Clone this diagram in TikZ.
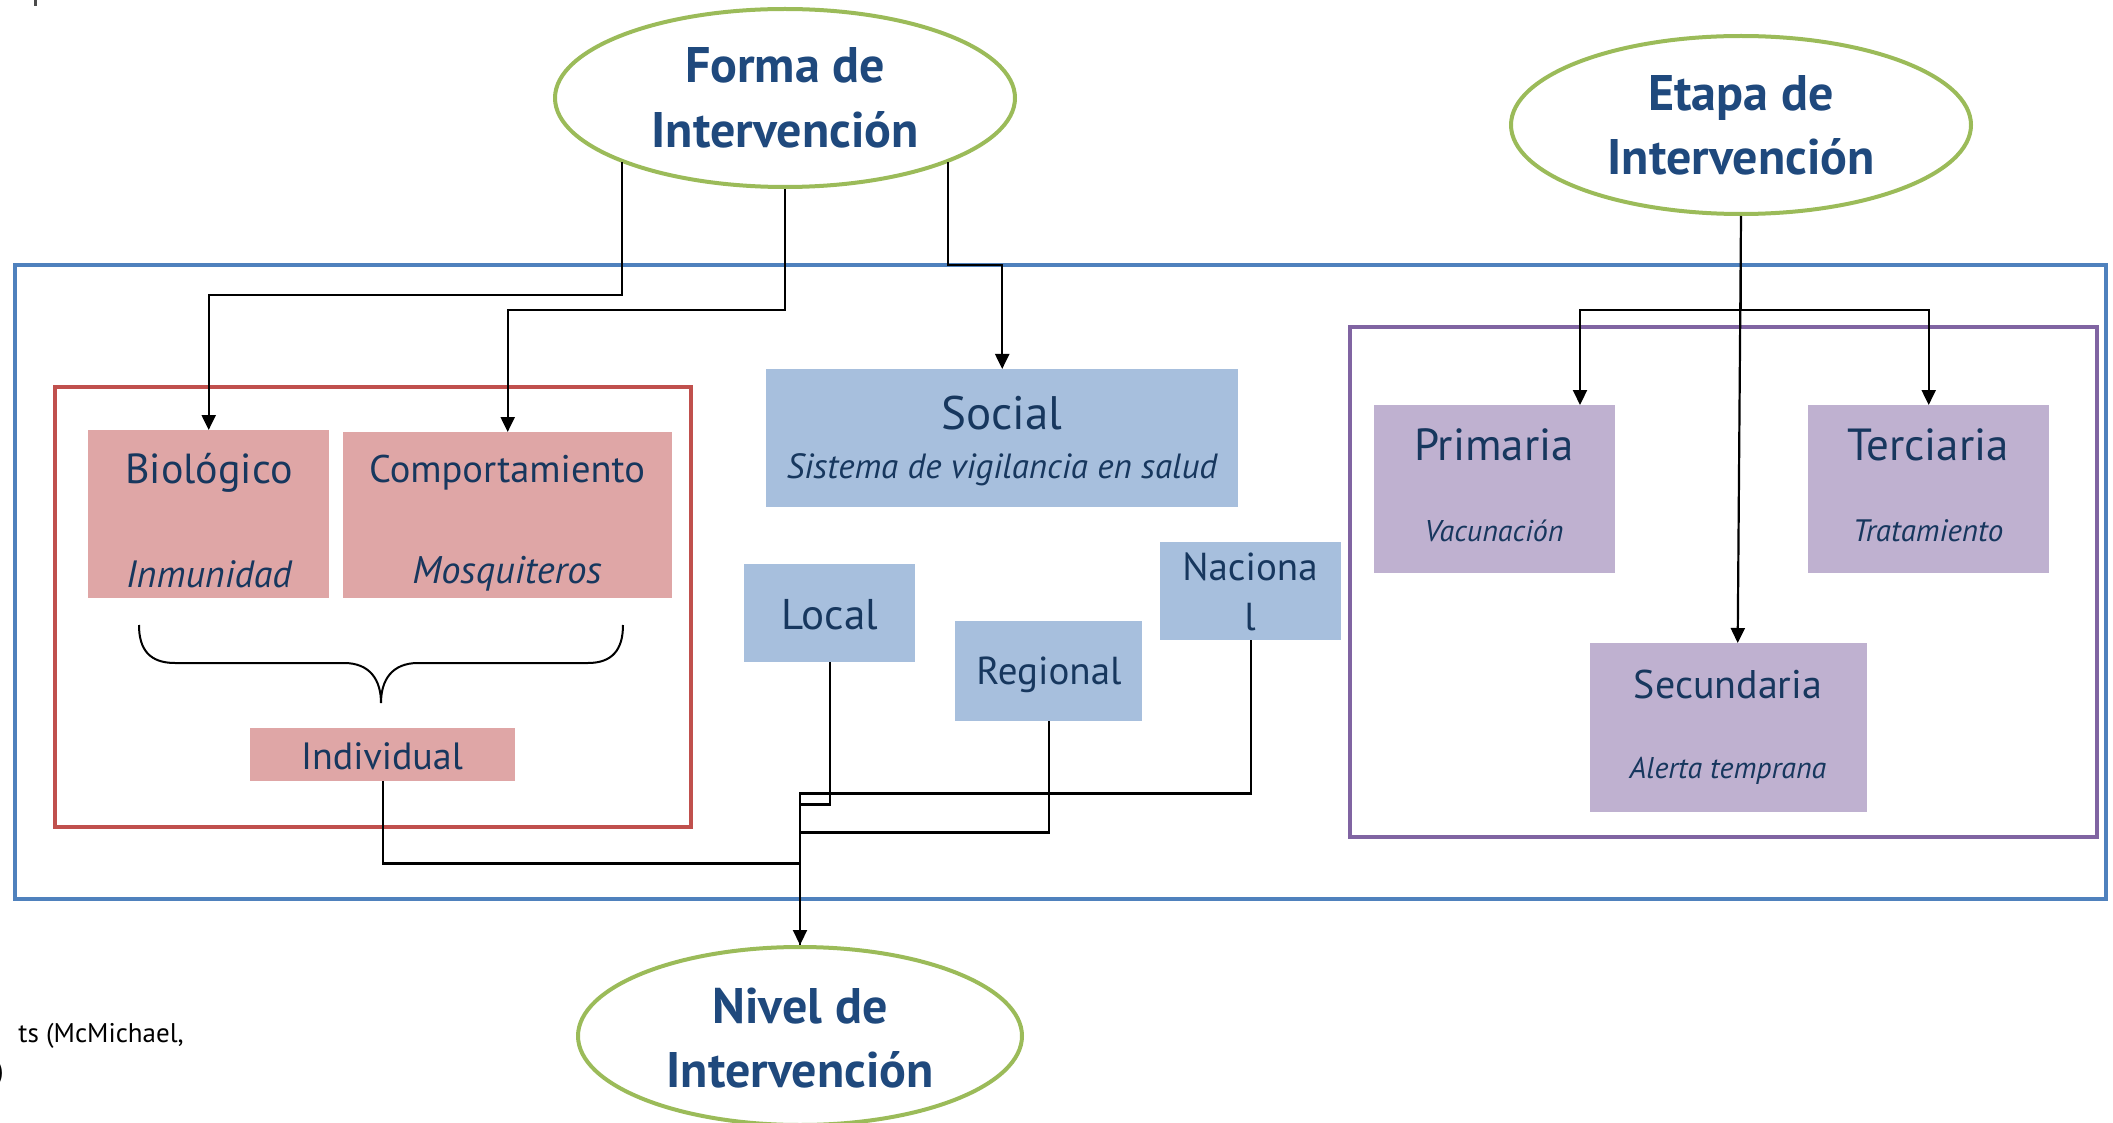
\documentclass[tikz,border=0pt]{standalone}
\usepackage{fontspec}
\setmainfont{PT Sans}
\usetikzlibrary{shapes.geometric,arrows.meta,calc}
\definecolor{bluebox}{RGB}{167,191,221}
\definecolor{redbox}{RGB}{223,166,166}
\definecolor{purbox}{RGB}{191,177,208}
\definecolor{redline}{RGB}{192,80,77}
\definecolor{purline}{RGB}{128,100,162}
\definecolor{blueline}{RGB}{79,129,189}
\definecolor{greenline}{RGB}{155,187,89}
\definecolor{navy}{RGB}{31,73,125}
\definecolor{boxtext}{RGB}{23,55,94}
\begin{document}
\begin{tikzpicture}[x=1pt,y=-1pt,
  ell/.style={ellipse,draw=greenline,line width=4pt,fill=white,inner sep=0pt},
  box/.style={inner sep=0pt,anchor=north west},
  lbl/.style={anchor=base,text=boxtext,inner sep=0pt},
  etext/.style={anchor=base,text=navy,font=\bfseries\fontsize{50}{54}\selectfont,inner sep=0pt},
  conn/.style={line width=2.2pt,black},
  arr/.style={conn,-{Triangle[length=15pt,width=14pt]}}
]
\useasboundingbox (0,0) rectangle (2113,1123);

% group frames
\draw[blueline,line width=4.5pt] (15,265) rectangle (2106,899);
\draw[redline,line width=4pt] (55,387) rectangle (691,827);
\draw[purline,line width=4pt] (1350,327) rectangle (2097,837);

% boxes
\node[box,fill=redbox,minimum width=241pt,minimum height=168pt] (bio) at (88,430) {};
\node[box,fill=redbox,minimum width=329pt,minimum height=166pt] (comp) at (343,432) {};
\node[box,fill=redbox,minimum width=265pt,minimum height=53pt] (ind) at (250,728) {};
\node[box,fill=bluebox,minimum width=472pt,minimum height=138pt] (soc) at (766,369) {};
\node[box,fill=bluebox,minimum width=171pt,minimum height=98pt] (local) at (744,564) {};
\node[box,fill=bluebox,minimum width=187pt,minimum height=100pt] (reg) at (955,621) {};
\node[box,fill=bluebox,minimum width=181pt,minimum height=98pt] (nac) at (1160,542) {};
\node[box,fill=purbox,minimum width=241pt,minimum height=168pt] (prim) at (1374,405) {};
\node[box,fill=purbox,minimum width=241pt,minimum height=168pt] (ter) at (1808,405) {};
\node[box,fill=purbox,minimum width=277pt,minimum height=169pt] (sec) at (1590,643) {};

% ellipses
\node[ell,minimum width=460pt,minimum height=178pt] (forma) at (785,98) {};
\node[ell,minimum width=460pt,minimum height=178pt] (etapa) at (1741,125) {};
\node[ell,minimum width=444pt,minimum height=178pt] (nivel) at (800,1036) {};

% ellipse texts
\node[etext] (formaA) at (785,83) {Forma de};
\node[etext] (formaB) at (785,148) {Intervención};
\node[etext] (etapaA) at (1741,111) {Etapa de};
\node[etext] (etapaB) at (1741,175) {Intervención};
\node[etext] (nivelA) at (800,1023) {Nivel de};
\node[etext] (nivelB) at (800,1087) {Intervención};

% box texts
\node[lbl,font=\fontsize{42}{46}\selectfont] (bioT) at (209,483) {Biológico};
\node[lbl,font=\itshape\fontsize{38}{41}\selectfont] (bioS) at (209,587) {Inmunidad};
\node[lbl,font=\fontsize{38.5}{42}\selectfont] (compT) at (507,482) {Comportamiento};
\node[lbl,font=\itshape\fontsize{38.5}{41}\selectfont] (compS) at (507,583) {Mosquiteros};
\node[lbl,font=\fontsize{38}{42}\selectfont] (indT) at (382,769) {Individual};
\node[lbl,font=\fontsize{47}{50}\selectfont] (socT) at (1002,429) {Social};
\node[lbl,font=\itshape\fontsize{35}{38}\selectfont] (socS) at (1002,478) {Sistema de vigilancia en salud};
\node[lbl,font=\fontsize{43}{46}\selectfont] (localT) at (830,629) {Local};
\node[lbl,font=\fontsize{39}{42}\selectfont] (regT) at (1049,684) {Regional};
\node[lbl,font=\fontsize{39}{42}\selectfont] (nacT) at (1250,580) {Naciona};
\node[lbl,font=\fontsize{39}{42}\selectfont] (nacT2) at (1250,630) {l};
\node[lbl,font=\fontsize{45}{48}\selectfont] (primT) at (1494,460) {Primaria};
\node[lbl,font=\itshape\fontsize{30}{33}\selectfont] (primS) at (1494,541) {Vacunación};
\node[lbl,font=\fontsize{45}{48}\selectfont] (terT) at (1928,460) {Terciaria};
\node[lbl,font=\itshape\fontsize{31}{34}\selectfont] (terS) at (1928,541) {Tratamiento};
\node[lbl,font=\fontsize{40}{44}\selectfont] (secT) at (1728,698) {Secundaria};
\node[lbl,font=\itshape\fontsize{30}{33}\selectfont] (secS) at (1728,778) {Alerta temprana};

% brace
\draw[line width=2pt] (139,625) .. controls (139,650) and (150,663) .. (175,663) -- (344,663)
  .. controls (370,663) and (381,680) .. (381,703)
  .. controls (381,680) and (392,663) .. (418,663) -- (588,663)
  .. controls (612,663) and (623,650) .. (623,625);

% connectors from Forma
\draw[arr] ($(forma.center)+(-163,64)$) -- ++(0,133) -| (bio.north);
\draw[arr] (forma.south) -- ++(0,121) -| (comp.north);
\draw[arr] ($(forma.center)+(163,64)$) -- ++(0,103) -| (soc.north);

% connectors from Etapa
\coordinate (xP) at (1580,0);
\draw[arr] (etapa.south) -- ++(0,94) -| (prim.north -| xP);
\draw[arr] (etapa.south) -- ++(0,94) -| (ter.north);
\draw[arr] (etapa.south) -- ($(sec.north)+(9,0)$);

% connectors to Nivel
\draw[conn] (nac.south) -- ++(0,153) -| (nivel.north);
\draw[conn] (local.south) -- ++(0,142) -| (nivel.north);
\draw[conn] (reg.south) -- ++(0,111) -| (nivel.north);
\draw[arr] (ind.south) -- ++(0,82) -| (nivel.north);

% fragments at the left edge
\node[anchor=base east,inner sep=0pt,font=\fontsize{27}{29}\selectfont] (cite) at (184,1042) {ts (McMichael,};
\node[anchor=base east,inner sep=0pt,font=\fontsize{28}{30}\selectfont] (cite2) at (4,1080) {)};
\draw[black!70,line width=3pt] (35,0) -- (35,6);
\end{tikzpicture}
\end{document}
